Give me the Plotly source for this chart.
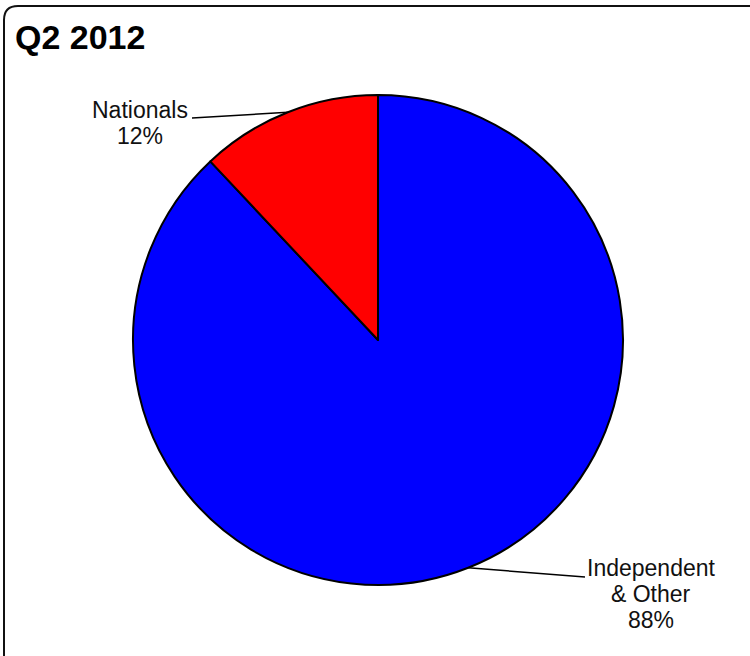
import math
import plotly.graph_objects as go

# ---- data ----
labels = ["Independent & Other", "Nationals"]
label_lines = [["Independent", "& Other"], ["Nationals"]]
values = [88, 12]
colors = ["#0000FF", "#FF0000"]
title_text = "Q2 2012"

# ---- layout geometry (pixels in the 750x656 window) ----
W, H = 750, 656
cx, cy, r = 378, 340, 245
label_anchor = [(585, 577), (192, 118)]      # text-side end of leader lines
label_center_x = [651, 140]
first_baseline = [575, 117]
line_step = 26
font_size = 23


def px(x):
    return x / W


def py(y):
    return 1 - y / H


fig = go.Figure()
fig.add_trace(go.Pie(
    labels=labels,
    values=values,
    sort=False,
    direction="clockwise",
    rotation=0,
    marker=dict(colors=colors, line=dict(color="black", width=2)),
    textinfo="none",
    hoverinfo="label+percent",
    showlegend=False,
    domain=dict(x=[px(cx - r), px(cx + r)], y=[py(cy + r), py(cy - r)]),
))

shapes = []
annotations = []
total = sum(values)
cum = 0
for i, v in enumerate(values):
    frac_mid = (cum + v / 2) / total
    cum += v
    ang = 2 * math.pi * frac_mid  # clockwise from top
    ex = cx + r * math.sin(ang)
    ey = cy - r * math.cos(ang)
    ax, ay = label_anchor[i]
    shapes.append(dict(type="line", xref="paper", yref="paper",
                       x0=px(ex), y0=py(ey), x1=px(ax), y1=py(ay),
                       line=dict(color="black", width=1.5)))
    pct = f"{round(100 * v / total)}%"
    lines = label_lines[i] + [pct]
    for k, t in enumerate(lines):
        base = first_baseline[i] + k * line_step
        annotations.append(dict(
            text=t, xref="paper", yref="paper",
            x=px(label_center_x[i]), y=py(base - 7),
            xanchor="center", yanchor="middle", showarrow=False,
            font=dict(family="Liberation Sans, Arial, sans-serif", size=font_size, color="#111111"),
        ))

# title
annotations.append(dict(
    text=f"<b>{title_text}</b>", xref="paper", yref="paper",
    x=px(13), y=py(37), xanchor="left", yanchor="middle", showarrow=False,
    font=dict(family="Liberation Sans, Arial, sans-serif", size=34, color="black"),
))

# outer rounded border (extends past right/bottom edges)
x0, y0, rad = 4, 6, 14
x1, y1 = 780, 690
path = (f"M {px(x0)},{py(y1)} L {px(x0)},{py(y0 + rad)} "
        f"Q {px(x0)},{py(y0)} {px(x0 + rad)},{py(y0)} "
        f"L {px(x1)},{py(y0)}")
shapes.append(dict(type="path", xref="paper", yref="paper", path=path,
                   line=dict(color="#111111", width=2)))

fig.update_layout(
    width=W, height=H,
    margin=dict(l=0, r=0, t=0, b=0),
    paper_bgcolor="white",
    plot_bgcolor="white",
    shapes=shapes,
    annotations=annotations,
)

fig.write_html(
    "out.html",
    config={"displayModeBar": False},
    post_script="document.body.style.margin='0px';document.body.style.overflow='hidden';",
)
